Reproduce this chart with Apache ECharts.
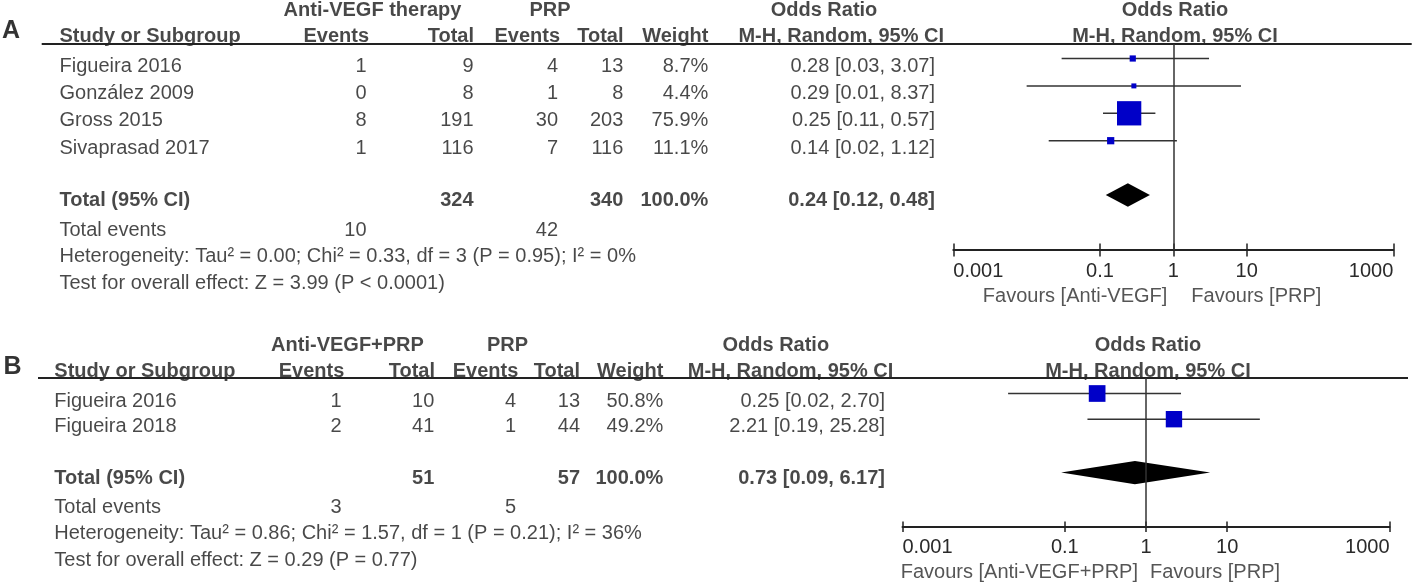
<!DOCTYPE html>
<html lang="en">
<head>
<meta charset="UTF-8">
<title>Forest plot</title>
<style>
  html, body { margin: 0; padding: 0; background: #ffffff; }
  #chart { width: 1413px; height: 584px; }
</style>
</head>
<body>
<div id="chart"></div>
<script src="https://cdn.jsdelivr.net/npm/echarts@6/dist/echarts.min.js"></script>
<script>
// ---- panel A: Anti-VEGF therapy vs PRP
var studiesA = ['Figueira 2016', 'González 2009', 'Gross 2015', 'Sivaprasad 2017'];
var antiEventsA = [1, 0, 8, 1];
var antiTotalA = [9, 8, 191, 116];
var prpEventsA = [4, 1, 30, 7];
var prpTotalA = [13, 8, 203, 116];
var weightA = [8.7, 4.4, 75.9, 11.1];
var orA = [0.28, 0.29, 0.25, 0.14];
var ciLowA = [0.03, 0.01, 0.11, 0.02];
var ciHighA = [3.07, 8.37, 0.57, 1.12];
var pooledA = [0.24, 0.12, 0.48];      // OR, low, high
var sumTotalsA = [324, 340];
var sumEventsA = [10, 42];
var groupsA = ['Anti-VEGF therapy', 'PRP'];
var favoursA = ['Favours [Anti-VEGF]', 'Favours [PRP]'];
var hetA = 'Heterogeneity: Tau² = 0.00; Chi² = 0.33, df = 3 (P = 0.95); I² = 0%';
var testA = 'Test for overall effect: Z = 3.99 (P < 0.0001)';

// ---- panel B: Anti-VEGF+PRP vs PRP
var studiesB = ['Figueira 2016', 'Figueira 2018'];
var antiEventsB = [1, 2];
var antiTotalB = [10, 41];
var prpEventsB = [4, 1];
var prpTotalB = [13, 44];
var weightB = [50.8, 49.2];
var orB = [0.25, 2.21];
var ciLowB = [0.02, 0.19];
var ciHighB = [2.70, 25.28];
var pooledB = [0.73, 0.09, 6.17];
var sumTotalsB = [51, 57];
var sumEventsB = [3, 5];
var groupsB = ['Anti-VEGF+PRP', 'PRP'];
var favoursB = ['Favours [Anti-VEGF+PRP]', 'Favours [PRP]'];
var hetB = 'Heterogeneity: Tau² = 0.86; Chi² = 1.57, df = 1 (P = 0.21); I² = 36%';
var testB = 'Test for overall effect: Z = 0.29 (P = 0.77)';

var tickValues = [0.001, 0.1, 1, 10, 1000];
var tickLabels = ['0.001', '0.1', '1', '10', '1000'];

// ---- layout (pixels) and style
var FONT = '"Liberation Sans", Arial, Helvetica, sans-serif';
var INK = '#1a1a1a';
var BOX = '#0000c8';

var layoutA = {
  letter: 'A', letterX: 11, letterY: 31,
  head1Y: 10, head2Y: 36, row0: 66, rowH: 27.4, totalIdx: 4.89,
  eventsY: 230, hetY: 256.7, testY: 283.3,
  ruleY: 44, ruleX0: 41.7, ruleX1: 1411.7, studyX: 59.5,
  evHead: 369, evX: 366.5, totHead: 474, totX: 473.5,
  prpEvHead: 560, prpEvX: 558, prpTotHead: 623.5, prpTotX: 623.3,
  wHead: 708.5, wX: 708.3, orHead: 944, orX: 935,
  group1X: 372.5, group2X: 550, orTitleX: 824, plotTitleX: 1175,
  plotL: 953.3, plotR: 1393.3, axisY: 250, tickLen: 6.5,
  markShift: -7.5, diamondDrop: 2.5, diamondHalf: 11.7, boxMax: 24.3,
  favY: 296.7, favGapL: 6, favGapR: 18
};
var layoutB = {
  letter: 'B', letterX: 12.5, letterY: 367,
  head1Y: 345, head2Y: 371.7, row0: 401, rowH: 25.7, totalIdx: 3.0,
  eventsY: 507.7, hetY: 533.3, testY: 560,
  ruleY: 378, ruleX0: 38, ruleX1: 1408, studyX: 54.3,
  evHead: 344.3, evX: 341.7, totHead: 435, totX: 434.3,
  prpEvHead: 518.3, prpEvX: 516, prpTotHead: 580, prpTotX: 580,
  wHead: 663.3, wX: 663.3, orHead: 893.3, orX: 885,
  group1X: 347.5, group2X: 507.5, orTitleX: 775.8, plotTitleX: 1148,
  plotL: 902.5, plotR: 1389.5, axisY: 526.7, tickLen: 5.3,
  markShift: -7.5, diamondDrop: 2, diamondHalf: 11.7, boxMax: 16.7,
  favY: 572.3, favGapL: 8, favGapR: 4
};

function fmt2(v) { return v.toFixed(2); }
function orText(o, lo, hi) { return fmt2(o) + ' [' + fmt2(lo) + ', ' + fmt2(hi) + ']'; }

function cell(x, y, text, align, bold, size, color) {
  var label = { formatter: String(text), align: align, fontWeight: bold ? 'bold' : 'normal', fontSize: size || 20 };
  if (color) label.color = color;
  return { value: [x, y], label: label };
}

function tickFormatter(v) {
  for (var i = 0; i < tickValues.length; i++) {
    if (Math.abs(Math.log10(v) - Math.log10(tickValues[i])) < 1e-6) return tickLabels[i];
  }
  return '';
}

var grids = [{ left: 0, top: 0, width: 1413, height: 584, outerBoundsMode: 'none' }];
var xAxes = [{ type: 'value', gridIndex: 0, min: 0, max: 1413, show: false }];
var yAxes = [{ type: 'value', gridIndex: 0, min: 0, max: 584, inverse: true, show: false }];
var series = [];

function addPanel(L, d) {
  // text table, drawn in the full-page pixel grid
  var cells = [];
  cells.push(cell(L.letterX, L.letterY, L.letter, 'center', true, 25, '#000'));
  cells.push(cell(L.group1X, L.head1Y, d.groups[0], 'center', true));
  cells.push(cell(L.group2X, L.head1Y, d.groups[1], 'center', true));
  cells.push(cell(L.orTitleX, L.head1Y, 'Odds Ratio', 'center', true));
  cells.push(cell(L.plotTitleX, L.head1Y, 'Odds Ratio', 'center', true));
  cells.push(cell(L.studyX, L.head2Y, 'Study or Subgroup', 'left', true));
  cells.push(cell(L.evHead, L.head2Y, 'Events', 'right', true));
  cells.push(cell(L.totHead, L.head2Y, 'Total', 'right', true));
  cells.push(cell(L.prpEvHead, L.head2Y, 'Events', 'right', true));
  cells.push(cell(L.prpTotHead, L.head2Y, 'Total', 'right', true));
  cells.push(cell(L.wHead, L.head2Y, 'Weight', 'right', true));
  cells.push(cell(L.orHead, L.head2Y, 'M-H, Random, 95% CI', 'right', true));
  cells.push(cell(L.plotTitleX, L.head2Y, 'M-H, Random, 95% CI', 'center', true));

  d.studies.forEach(function (name, i) {
    var y = L.row0 + i * L.rowH;
    cells.push(cell(L.studyX, y, name, 'left'));
    cells.push(cell(L.evX, y, d.antiEvents[i], 'right'));
    cells.push(cell(L.totX, y, d.antiTotal[i], 'right'));
    cells.push(cell(L.prpEvX, y, d.prpEvents[i], 'right'));
    cells.push(cell(L.prpTotX, y, d.prpTotal[i], 'right'));
    cells.push(cell(L.wX, y, d.weight[i].toFixed(1) + '%', 'right'));
    cells.push(cell(L.orX, y, orText(d.or[i], d.ciLow[i], d.ciHigh[i]), 'right'));
  });

  var ty = L.row0 + L.totalIdx * L.rowH;
  cells.push(cell(L.studyX, ty, 'Total (95% CI)', 'left', true));
  cells.push(cell(L.totX, ty, d.sumTotals[0], 'right', true));
  cells.push(cell(L.prpTotX, ty, d.sumTotals[1], 'right', true));
  cells.push(cell(L.wX, ty, '100.0%', 'right', true));
  cells.push(cell(L.orX, ty, orText(d.pooled[0], d.pooled[1], d.pooled[2]), 'right', true));
  cells.push(cell(L.studyX, L.eventsY, 'Total events', 'left'));
  cells.push(cell(L.evX, L.eventsY, d.sumEvents[0], 'right'));
  cells.push(cell(L.prpEvX, L.eventsY, d.sumEvents[1], 'right'));
  cells.push(cell(L.studyX, L.hetY, d.het, 'left'));
  cells.push(cell(L.studyX, L.testY, d.test, 'left'));

  series.push({
    type: 'scatter', xAxisIndex: 0, yAxisIndex: 0, symbolSize: 1, silent: true, clip: false,
    itemStyle: { color: 'rgba(0,0,0,0)' },
    label: { show: true, position: 'inside', verticalAlign: 'middle', color: INK, fontFamily: FONT },
    data: cells
  });

  // header rule
  series.push({
    type: 'line', xAxisIndex: 0, yAxisIndex: 0, symbol: 'none', silent: true,
    lineStyle: { color: '#222', width: 2 },
    data: [[L.ruleX0, L.ruleY], [L.ruleX1, L.ruleY]]
  });

  // forest plot grid: log x axis, row index y axis
  var gi = grids.length;
  var base = L.row0 + L.markShift;
  grids.push({ left: L.plotL, width: L.plotR - L.plotL, top: L.ruleY, height: L.axisY - L.ruleY, outerBoundsMode: 'none' });
  var xi = xAxes.length;
  xAxes.push({
    type: 'log', logBase: 10, gridIndex: gi, min: 0.001, max: 1000, position: 'bottom',
    axisLine: { show: true, onZero: false, lineStyle: { color: '#222', width: 2 } },
    axisTick: { show: true, customValues: tickValues, length: L.tickLen, lineStyle: { color: '#222', width: 1.5 } },
    axisLabel: {
      show: true, customValues: tickValues, formatter: tickFormatter, margin: 11,
      fontSize: 20, color: '#2a2a2a', fontFamily: FONT, alignMinLabel: 'left', alignMaxLabel: 'right'
    },
    splitLine: { show: false }
  });
  xAxes.push({
    type: 'log', logBase: 10, gridIndex: gi, min: 0.001, max: 1000, position: 'bottom',
    axisLine: { show: false, onZero: false },
    axisTick: { show: true, inside: true, customValues: tickValues, length: L.tickLen, lineStyle: { color: '#222', width: 1.5 } },
    axisLabel: { show: false },
    splitLine: { show: false }
  });
  var yi = yAxes.length;
  yAxes.push({
    type: 'value', gridIndex: gi, inverse: true, show: false,
    min: (L.ruleY - base) / L.rowH, max: (L.axisY - base) / L.rowH
  });

  // confidence interval whiskers
  series.push({
    type: 'custom', xAxisIndex: xi, yAxisIndex: yi, silent: true, clip: false,
    encode: { x: [0, 1], y: 2 },
    data: d.ciLow.map(function (lo, i) { return [lo, d.ciHigh[i], i]; }),
    renderItem: function (params, api) {
      var a = api.coord([api.value(0), api.value(2)]);
      var b = api.coord([api.value(1), api.value(2)]);
      return { type: 'line', shape: { x1: a[0], y1: a[1], x2: b[0], y2: b[1] }, style: { stroke: '#333', lineWidth: 1.5 } };
    }
  });

  // study boxes + line of no effect
  var wMax = Math.max.apply(null, d.weight);
  series.push({
    type: 'scatter', xAxisIndex: xi, yAxisIndex: yi, silent: true, clip: false,
    symbol: 'rect',
    symbolSize: function (val) {
      var s = Math.max(5, L.boxMax * Math.pow(val[2] / wMax, 0.63));
      return [s, s];
    },
    itemStyle: { color: BOX, opacity: 1 },
    data: d.or.map(function (o, i) { return [o, i, d.weight[i]]; }),
    markLine: {
      silent: true, symbol: ['none', 'none'], animation: false,
      label: { show: false },
      lineStyle: { color: '#333', width: 1.5, type: 'solid' },
      data: [{ xAxis: 1 }]
    }
  });

  // pooled diamond
  series.push({
    type: 'custom', xAxisIndex: xi, yAxisIndex: yi, silent: true, clip: false,
    encode: { x: [0, 1, 3], y: 2 },
    data: [[d.pooled[1], d.pooled[2], L.totalIdx, d.pooled[0]]],
    renderItem: function (params, api) {
      var row = api.value(2);
      var lo = api.coord([api.value(0), row]);
      var hi = api.coord([api.value(1), row]);
      var mid = api.coord([api.value(3), row]);
      var cy = mid[1] + L.diamondDrop;
      return {
        type: 'polygon',
        shape: { points: [[lo[0], cy], [mid[0], cy - L.diamondHalf], [hi[0], cy], [mid[0], cy + L.diamondHalf]] },
        style: { fill: '#000' }
      };
    }
  });

  // favours captions, anchored at OR = 1
  var favRow = (L.favY - base) / L.rowH;
  series.push({
    type: 'scatter', xAxisIndex: xi, yAxisIndex: yi, symbolSize: 1, silent: true, clip: false,
    itemStyle: { color: 'rgba(0,0,0,0)' },
    label: { show: true, position: 'inside', verticalAlign: 'middle', color: '#2a2a2a', fontFamily: FONT, fontSize: 20 },
    data: [
      { value: [1, favRow], label: { formatter: d.favours[0], align: 'right', offset: [-L.favGapL, 0] } },
      { value: [1, favRow], label: { formatter: d.favours[1], align: 'left', offset: [L.favGapR, 0] } }
    ]
  });
}

addPanel(layoutA, {
  studies: studiesA, antiEvents: antiEventsA, antiTotal: antiTotalA, prpEvents: prpEventsA,
  prpTotal: prpTotalA, weight: weightA, or: orA, ciLow: ciLowA, ciHigh: ciHighA,
  pooled: pooledA, sumTotals: sumTotalsA, sumEvents: sumEventsA, groups: groupsA,
  favours: favoursA, het: hetA, test: testA
});
addPanel(layoutB, {
  studies: studiesB, antiEvents: antiEventsB, antiTotal: antiTotalB, prpEvents: prpEventsB,
  prpTotal: prpTotalB, weight: weightB, or: orB, ciLow: ciLowB, ciHigh: ciHighB,
  pooled: pooledB, sumTotals: sumTotalsB, sumEvents: sumEventsB, groups: groupsB,
  favours: favoursB, het: hetB, test: testB
});

var myChart = echarts.init(document.getElementById('chart'));
myChart.setOption({
  animation: false,
  backgroundColor: '#ffffff',
  textStyle: { fontFamily: FONT },
  grid: grids,
  xAxis: xAxes,
  yAxis: yAxes,
  series: series
});
</script>
</body>
</html>
